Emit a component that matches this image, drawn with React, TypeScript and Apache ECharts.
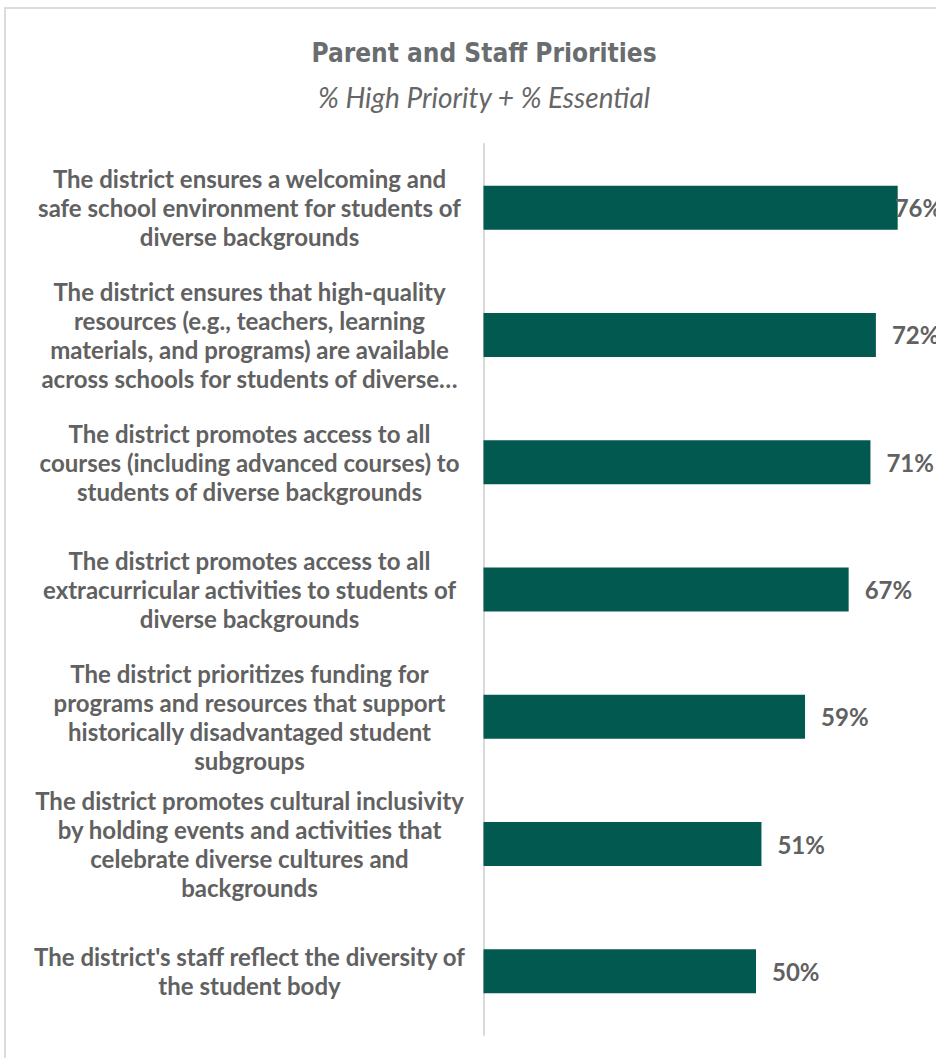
import React, { useEffect, useRef } from "react";
import * as echarts from "echarts";

const categories: string[] = [
  "The district ensures a welcoming and\nsafe school environment for students of\ndiverse backgrounds",
  "The district ensures that high-quality\nresources (e.g., teachers, learning\nmaterials, and programs) are available\nacross schools for students of diverse…",
  "The district promotes access to all\ncourses (including advanced courses) to\nstudents of diverse backgrounds",
  "The district promotes access to all\nextracurricular activities to students of\ndiverse backgrounds",
  "The district prioritizes funding for\nprograms and resources that support\nhistorically disadvantaged student\nsubgroups",
  "The district promotes cultural inclusivity\nby holding events and activities that\ncelebrate diverse cultures and\nbackgrounds",
  "The district's staff reflect the diversity of\nthe student body",
];
const values: number[] = [76, 72, 71, 67, 59, 51, 50];

const titleText = "Parent and Staff Priorities";
const subtitleText = "% High Priority + % Essential";

export default function App() {
  const ref = useRef<HTMLDivElement>(null);
  useEffect(() => {
    if (!ref.current) return;
    const chart = echarts.init(ref.current, null, { renderer: "svg" });
    const textColor = "#616161";
    chart.setOption({
      animation: false,
      title: [
        {
          text: titleText,
          left: 479,
          top: 35,
          textAlign: "center",
          textStyle: {
            fontFamily: "'DejaVu Sans Condensed', 'Liberation Sans Narrow', Roboto, sans-serif",
            fontWeight: "bold",
            fontSize: 26,
            color: "#6a6d70",
          },
        },
        {
          text: subtitleText,
          left: 479,
          top: 78,
          textAlign: "center",
          textStyle: {
            fontFamily: "Lato",
            fontStyle: "italic",
            fontWeight: "normal",
            fontSize: 28,
            color: "#666666",
          },
        },
      ],
      grid: { left: 483.5, top: 144, width: 545, height: 891, containLabel: false },
      xAxis: {
        type: "value",
        min: 0,
        max: 100,
        show: false,
        splitLine: { show: false },
      },
      yAxis: {
        type: "category",
        inverse: true,
        data: categories,
        axisLine: { show: true, lineStyle: { color: "#d9d9d9", width: 2 } },
        axisTick: { show: false },
        axisLabel: {
          margin: 234,
          align: "center",
          fontFamily: "Lato",
          fontWeight: "bold",
          fontSize: 24,
          lineHeight: 29,
          color: textColor,
        },
      },
      series: [
        {
          type: "bar",
          barWidth: 44,
          itemStyle: { color: "#02594F" },
          data: values.map((v, i) =>
            i === 0
              ? { value: v, label: { distance: -3 } }
              : { value: v }
          ),
          label: {
            show: true,
            position: "right",
            distance: 16,
            formatter: "{c}%",
            fontFamily: "Lato",
            fontWeight: "bold",
            fontSize: 24,
            color: textColor,
          },
        },
      ],
    });
    return () => chart.dispose();
  }, []);
  return (
    <div
      style={{
        position: "fixed",
        left: 0,
        top: 0,
        width: 936,
        height: 1058,
        overflow: "hidden",
        background: "#fff",
      }}
    >
      <div
        style={{
          position: "absolute",
          left: 4,
          top: 7,
          width: 1000,
          height: 1100,
          border: "2px solid #dcdcdc",
          boxSizing: "border-box",
        }}
      />
      <div
        ref={ref}
        style={{ position: "absolute", left: 0, top: 0, width: 1060, height: 1058 }}
      />
    </div>
  );
}
